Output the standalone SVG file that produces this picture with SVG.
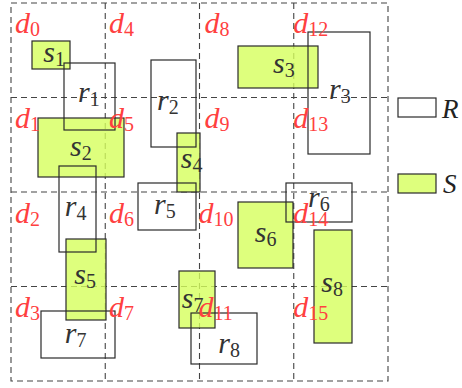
<svg xmlns="http://www.w3.org/2000/svg" width="462" height="388" viewBox="0 0 462 388">
<style>
.grid{stroke:#444;stroke-width:1.1;stroke-dasharray:6 4;fill:none}
.S{fill:#d6ff5c;fill-opacity:0.8;stroke:#2a2a2a;stroke-width:1.2}
.R{fill:none;stroke:#2a2a2a;stroke-width:1.2}
text{font-family:"Liberation Serif","DejaVu Serif",serif}
.lbl{font-size:30px;fill:#333}
.dl{font-size:30px;fill:#ff4040}
.it{font-style:italic}
.sub{font-size:20px;font-style:normal}
.leg{font-size:27px;fill:#222;font-style:italic}
</style>
<rect width="462" height="388" fill="#fff"/>
<g id="grid" class="grid">
<rect x="11" y="3" width="377" height="378"/>
<line x1="105.25" y1="3" x2="105.25" y2="381"/>
<line x1="199.5" y1="3" x2="199.5" y2="381"/>
<line x1="293.75" y1="3" x2="293.75" y2="381"/>
<line x1="11" y1="97.5" x2="388" y2="97.5"/>
<line x1="11" y1="192" x2="388" y2="192"/>
<line x1="11" y1="286.5" x2="388" y2="286.5"/>
</g>
<g id="S-rects">
<rect id="s1" class="S" x="32" y="41" width="38" height="28"/>
<rect id="s2" class="S" x="38" y="118" width="86" height="59"/>
<rect id="s3" class="S" x="238" y="46" width="80" height="42"/>
<rect id="s4" class="S" x="177" y="133" width="23" height="59"/>
<rect id="s5" class="S" x="66" y="239" width="40" height="81"/>
<rect id="s6" class="S" x="238" y="202" width="55" height="66"/>
<rect id="s7" class="S" x="179" y="271" width="36" height="57"/>
<rect id="s8" class="S" x="314" y="230" width="38" height="113"/>
</g>
<g id="R-rects">
<rect id="r1" class="R" x="64" y="63" width="51" height="67"/>
<rect id="r2" class="R" x="151" y="60" width="45" height="87"/>
<rect id="r3" class="R" x="308" y="32" width="62" height="122"/>
<rect id="r4" class="R" x="59" y="166" width="37" height="86"/>
<rect id="r5" class="R" x="138" y="183" width="58" height="47"/>
<rect id="r6" class="R" x="286" y="183" width="66" height="39"/>
<rect id="r7" class="R" x="41" y="311" width="74" height="47"/>
<rect id="r8" class="R" x="191" y="313" width="66" height="51"/>
</g>
<g id="rs-labels" class="lbl">
<text x="43.3" y="61.7"><tspan class="it">s</tspan><tspan class="sub" dy="4">1</tspan></text>
<text x="78" y="101.7"><tspan class="it">r</tspan><tspan class="sub" dy="4">1</tspan></text>
<text x="70" y="156"><tspan class="it">s</tspan><tspan class="sub" dy="4">2</tspan></text>
<text x="157" y="110"><tspan class="it">r</tspan><tspan class="sub" dy="4">2</tspan></text>
<text x="273" y="72.7"><tspan class="it">s</tspan><tspan class="sub" dy="4">3</tspan></text>
<text x="329" y="99.3"><tspan class="it">r</tspan><tspan class="sub" dy="4">3</tspan></text>
<text x="180.7" y="168.3"><tspan class="it">s</tspan><tspan class="sub" dy="4">4</tspan></text>
<text x="64.7" y="215.7"><tspan class="it">r</tspan><tspan class="sub" dy="4">4</tspan></text>
<text x="154" y="214.3"><tspan class="it">r</tspan><tspan class="sub" dy="4">5</tspan></text>
<text x="308" y="206.7"><tspan class="it">r</tspan><tspan class="sub" dy="4">6</tspan></text>
<text x="74.3" y="284"><tspan class="it">s</tspan><tspan class="sub" dy="4">5</tspan></text>
<text x="254.7" y="242.3"><tspan class="it">s</tspan><tspan class="sub" dy="4">6</tspan></text>
<text x="181.7" y="308.3"><tspan class="it">s</tspan><tspan class="sub" dy="4">7</tspan></text>
<text x="64.7" y="342.7"><tspan class="it">r</tspan><tspan class="sub" dy="4">7</tspan></text>
<text x="218.3" y="353.3"><tspan class="it">r</tspan><tspan class="sub" dy="4">8</tspan></text>
<text x="321.3" y="292.3"><tspan class="it">s</tspan><tspan class="sub" dy="4">8</tspan></text>
</g>
<g id="d-labels" class="dl">
<text x="15" y="33"><tspan class="it">d</tspan><tspan class="sub" dy="3">0</tspan></text>
<text x="15" y="128"><tspan class="it">d</tspan><tspan class="sub" dy="3">1</tspan></text>
<text x="15" y="223"><tspan class="it">d</tspan><tspan class="sub" dy="3">2</tspan></text>
<text x="15" y="317"><tspan class="it">d</tspan><tspan class="sub" dy="3">3</tspan></text>
<text x="109" y="33"><tspan class="it">d</tspan><tspan class="sub" dy="3">4</tspan></text>
<text x="109" y="128"><tspan class="it">d</tspan><tspan class="sub" dy="3">5</tspan></text>
<text x="109" y="223"><tspan class="it">d</tspan><tspan class="sub" dy="3">6</tspan></text>
<text x="109" y="317"><tspan class="it">d</tspan><tspan class="sub" dy="3">7</tspan></text>
<text x="204.5" y="33"><tspan class="it">d</tspan><tspan class="sub" dy="3">8</tspan></text>
<text x="204.5" y="128"><tspan class="it">d</tspan><tspan class="sub" dy="3">9</tspan></text>
<text x="198.5" y="223"><tspan class="it">d</tspan><tspan class="sub" dy="3">10</tspan></text>
<text x="198.5" y="317"><tspan class="it">d</tspan><tspan class="sub" dy="3">11</tspan></text>
<text x="293.3" y="33"><tspan class="it">d</tspan><tspan class="sub" dy="3">12</tspan></text>
<text x="293.3" y="128"><tspan class="it">d</tspan><tspan class="sub" dy="3">13</tspan></text>
<text x="293.3" y="223"><tspan class="it">d</tspan><tspan class="sub" dy="3">14</tspan></text>
<text x="293.3" y="317"><tspan class="it">d</tspan><tspan class="sub" dy="3">15</tspan></text>
</g>
<g id="legend">
<rect class="R" x="398" y="98" width="38" height="19"/>
<text class="leg" x="442" y="118">R</text>
<rect class="S" x="398" y="174" width="38" height="19"/>
<text class="leg" x="443" y="193">S</text>
</g>
</svg>
